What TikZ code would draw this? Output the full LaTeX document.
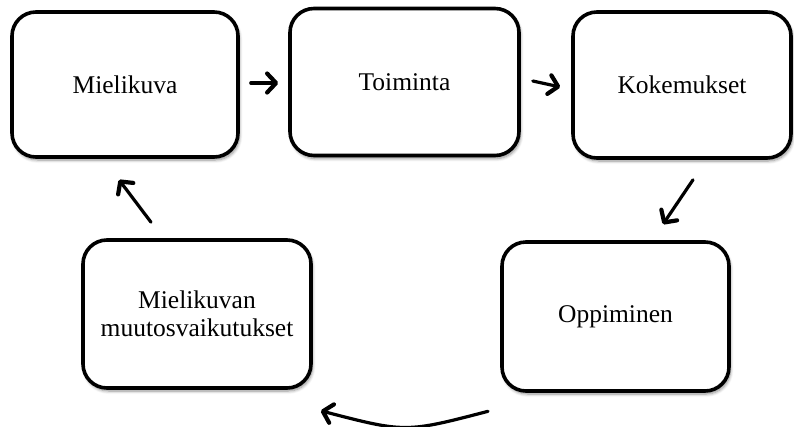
\documentclass[tikz,border=0pt]{standalone}
\usepackage{fontspec}
\setmainfont{Liberation Serif}
\usetikzlibrary{arrows.meta,shadows.blur}
\begin{document}
\begin{tikzpicture}[x=1pt,y=-1pt,
  box/.style={draw=black, line width=3.6pt, rounded corners=24pt, fill=white,
    inner sep=0pt, align=center, font=\fontsize{25.5}{28}\selectfont,
    blur shadow={shadow xshift=1.5pt, shadow yshift=-3pt, shadow blur steps=6, shadow opacity=45, shadow blur radius=3pt}},
  arr/.style={line width=3.2pt, line cap=round, -{Straight Barb[length=9pt, width=19pt, line width=4.2pt, round]}}
]
\useasboundingbox (0,0) rectangle (794,426);
\node[box, minimum width=226pt, minimum height=145pt] (m) at (125,84.5) {Mielikuva};
\node[box, minimum width=229pt, minimum height=147pt] (t) at (404.5,82) {Toiminta};
\node[box, minimum width=218pt, minimum height=146pt] (k) at (682,85) {Kokemukset};
\node[box, minimum width=227pt, minimum height=149pt] (o) at (615.5,316.5) {Oppiminen};
\node[box, minimum width=228pt, minimum height=148pt] (mv) at (197,314) {Mielikuvan\\muutosvaikutukset};
\draw[arr] ([xshift=11pt,yshift=1.5pt]m.east) -- ([xshift=-10pt,yshift=-1pt]t.west);
\draw[arr] ([xshift=12pt,yshift=1pt]t.east) -- ([xshift=-11pt,yshift=-2pt]k.west);
\draw[arr] ([xshift=11pt,yshift=-20pt]k.south) -- ([xshift=47.5pt,yshift=16pt]o.north);
\draw[arr] ([xshift=-127.5pt,yshift=-18.5pt]o.south) .. controls ([xshift=-210pt,yshift=-40pt]o.south) .. ([xshift=8pt,yshift=-21pt]mv.south east);
\draw[arr] ([xshift=-46pt,yshift=16pt]mv.north) -- ([xshift=-6pt,yshift=-21pt]m.south);
\end{tikzpicture}
\end{document}
